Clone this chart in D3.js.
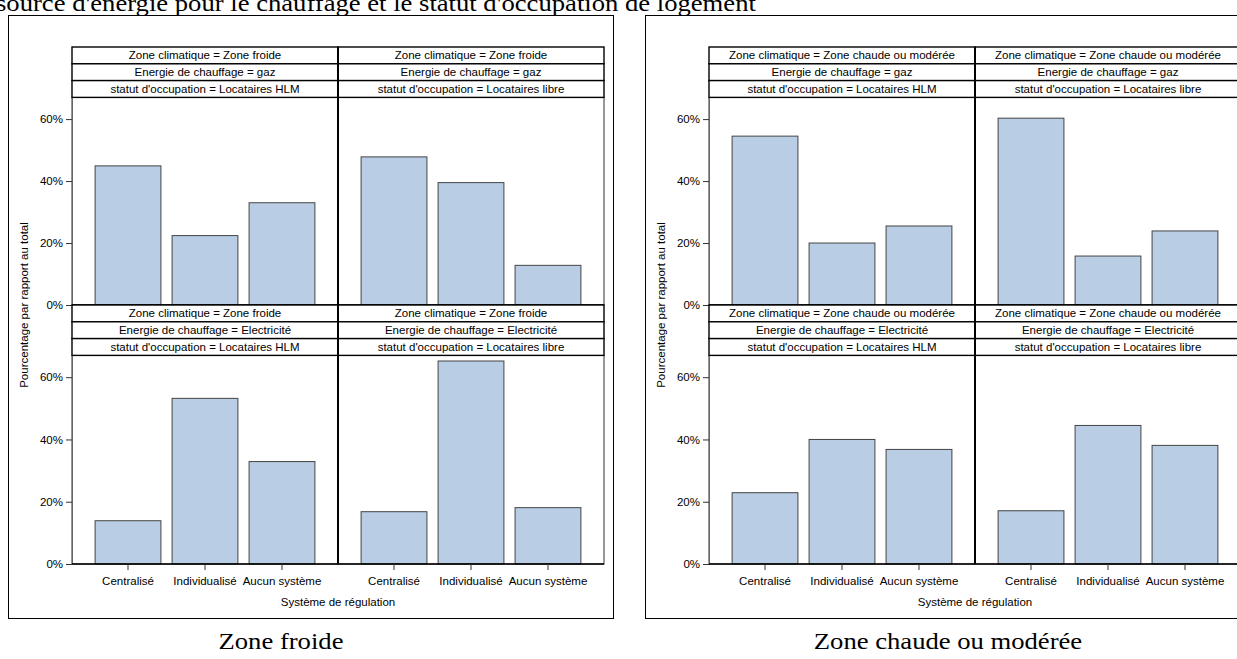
<!DOCTYPE html>
<html><head><meta charset="utf-8">
<script src="https://cdn.jsdelivr.net/npm/d3@7"></script>
<style>
html,body{margin:0;padding:0;background:#fff;overflow:hidden;}
svg{display:block;}
</style></head>
<body>
<svg id="chart" width="1237" height="659"></svg>
<script>
const categories = ["Centralisé", "Individualisé", "Aucun système"];
const yTicks = [0, 20, 40, 60];
const froideGazHLM = [44.9, 22.4, 33.0];
const froideGazLibre = [47.8, 39.5, 12.8];
const froideElecHLM = [13.9, 53.2, 32.9];
const froideElecLibre = [16.8, 65.2, 18.1];
const chaudeGazHLM = [54.5, 20.0, 25.5];
const chaudeGazLibre = [60.3, 15.8, 23.9];
const chaudeElecHLM = [22.9, 40.0, 36.8];
const chaudeElecLibre = [17.1, 44.5, 38.1];

const zones = ["Zone froide", "Zone chaude ou modérée"];
const energies = ["gaz", "Electricité"];
const statuts = ["Locataires HLM", "Locataires libre"];
const panelValues = [
  [[froideGazHLM, froideGazLibre], [froideElecHLM, froideElecLibre]],
  [[chaudeGazHLM, chaudeGazLibre], [chaudeElecHLM, chaudeElecLibre]]
];
const captionTitle = "source d'énergie pour le chauffage et le statut d'occupation de logement";

const svg = d3.select("#chart");
const sans = "'Liberation Sans', Arial, sans-serif";
const serif = "'Liberation Serif', 'DejaVu Serif', serif";
const sansSize = 11.5;

svg.append("text").attr("transform", "translate(-4,11) scale(1.11,1)")
  .attr("font-family", serif).attr("font-size", 24).attr("fill", "#000")
  .text(captionTitle);

const cellW = 266, stripH = 16.8;
const rowsY = [{head: 47, top: 97.4, bottom: 305}, {head: 305, top: 355.4, bottom: 564}];
const yMax = 67;

zones.forEach((zone, zi) => {
  const ox = zi * 637;
  const g = svg.append("g").attr("transform", `translate(${ox},0)`);
  g.append("rect").attr("x", 8.5).attr("y", 15.5).attr("width", 605).attr("height", 603)
    .attr("fill", "none").attr("stroke", "#000").attr("stroke-width", 1);

  const plotL = 72;
  const x = d3.scaleBand().domain(categories).range([0, cellW]).paddingInner(0.145).paddingOuter(0.3);

  rowsY.forEach((row, ri) => {
    const y = d3.scaleLinear().domain([0, yMax]).range([row.bottom, row.top]);
    statuts.forEach((st, ci) => {
      const cx = plotL + ci * cellW;
      const cg = g.append("g").attr("transform", `translate(${cx},0)`);
      cg.selectAll("rect.bar").data(panelValues[zi][ri][ci]).enter().append("rect")
        .attr("class", "bar")
        .attr("x", (d, i) => x(categories[i]))
        .attr("y", d => y(d))
        .attr("width", x.bandwidth())
        .attr("height", d => y(0) - y(d))
        .attr("fill", "#B9CDE5").attr("stroke", "#444").attr("stroke-width", 1);
      cg.append("rect").attr("x", 0).attr("y", row.top).attr("width", cellW).attr("height", row.bottom - row.top)
        .attr("fill", "none").attr("stroke", "#333").attr("stroke-width", 1);
      const labels = [`Zone climatique = ${zone}`, `Energie de chauffage = ${energies[ri]}`, `statut d'occupation = ${st}`];
      labels.forEach((lab, k) => {
        const sy = row.head + k * stripH;
        cg.append("rect").attr("x", 0).attr("y", sy).attr("width", cellW).attr("height", stripH)
          .attr("fill", "#fff").attr("stroke", "#000").attr("stroke-width", 1.4);
        cg.append("text").attr("x", cellW / 2).attr("y", sy + stripH / 2 + 4)
          .attr("text-anchor", "middle").attr("font-family", sans).attr("font-size", sansSize).attr("fill", "#000")
          .text(lab);
      });
    });
    g.append("line").attr("x1", plotL + cellW).attr("x2", plotL + cellW).attr("y1", row.head).attr("y2", row.bottom)
      .attr("stroke", "#000").attr("stroke-width", 2);
    const ya = g.append("g").attr("transform", `translate(${plotL},0)`)
      .call(d3.axisLeft(y).tickValues(yTicks).tickFormat(d => d + "%").tickSize(6).tickSizeOuter(0).tickPadding(3));
    ya.select(".domain").attr("stroke", "#666");
    ya.selectAll(".tick line").attr("stroke", "#333");
    ya.selectAll("text").attr("font-family", sans).attr("font-size", sansSize).attr("fill", "#000");
    g.append("line").attr("x1", plotL).attr("x2", plotL + 2 * cellW).attr("y1", row.bottom).attr("y2", row.bottom)
      .attr("stroke", "#000").attr("stroke-width", 1.4);
  });

  statuts.forEach((st, ci) => {
    const xa = g.append("g").attr("transform", `translate(${plotL + ci * cellW},${rowsY[1].bottom})`)
      .call(d3.axisBottom(x).tickSize(6).tickSizeOuter(0).tickPadding(7));
    xa.select(".domain").remove();
    xa.selectAll(".tick line").attr("stroke", "#333");
    xa.selectAll("text").attr("font-family", sans).attr("font-size", sansSize).attr("fill", "#000");
  });

  g.append("text").attr("x", plotL + cellW).attr("y", 606).attr("text-anchor", "middle")
    .attr("font-family", sans).attr("font-size", sansSize).attr("fill", "#000").text("Système de régulation");
  g.append("text").attr("transform", `translate(28,305) rotate(-90)`).attr("text-anchor", "middle")
    .attr("font-family", sans).attr("font-size", sansSize).attr("fill", "#000").text("Pourcentage par rapport au total");

  const capX = zi === 0 ? 281 : 311;
  g.append("text").attr("transform", `translate(${capX},649) scale(1.11,1)`).attr("text-anchor", "middle")
    .attr("font-family", serif).attr("font-size", 24).attr("fill", "#000").text(zone);
});
</script>
</body></html>
